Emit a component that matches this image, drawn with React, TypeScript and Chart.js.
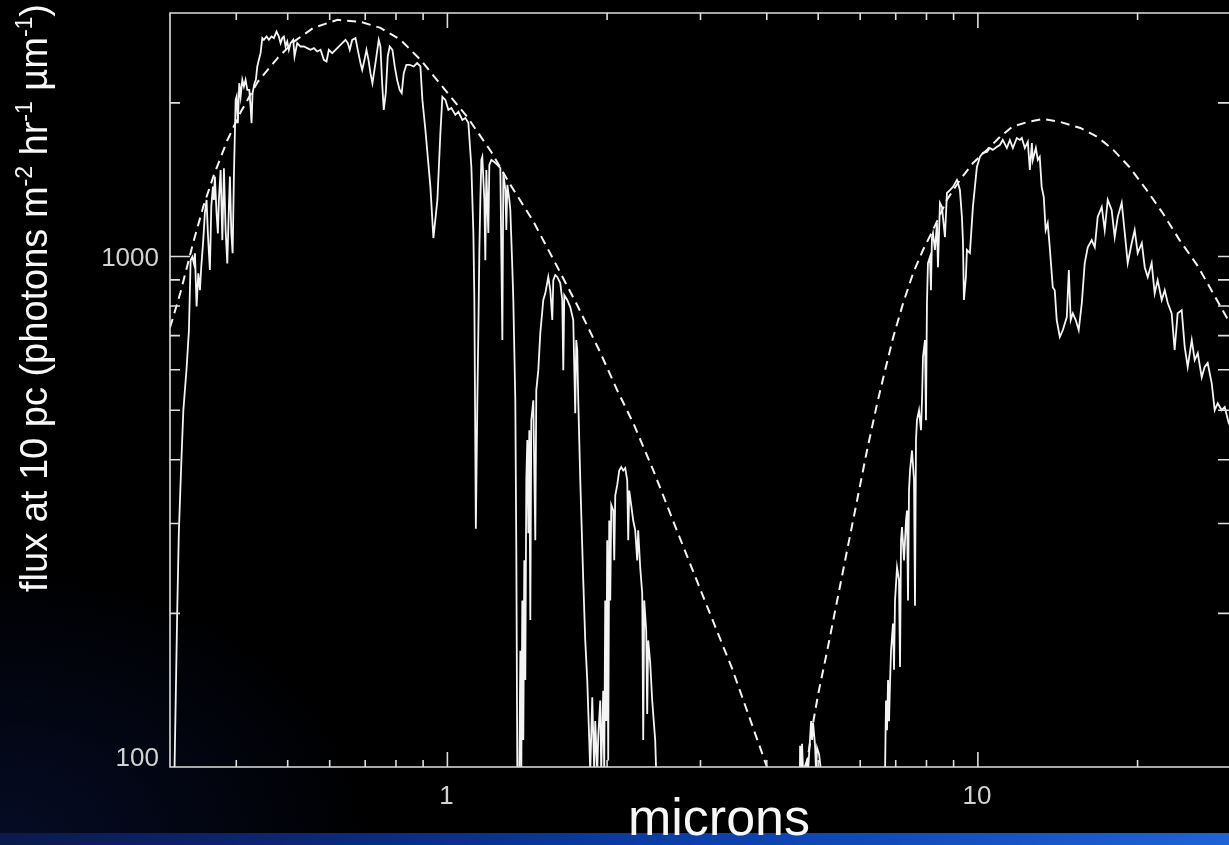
import { useEffect, useRef } from "react";
import { Chart, registerables } from "chart.js";

Chart.register(...registerables);

// ---- data (microns, photons m^-2 hr^-1 um^-1) ----
const specMicrons = [
  0.303, 0.306, 0.3095, 0.3117, 0.3152, 0.3179, 0.3225, 0.3257, 0.3281, 0.3305, 0.3329, 0.3343, 0.3367, 0.3392, 0.3416,
  0.3436, 0.3466, 0.349, 0.3516, 0.3536, 0.3567, 0.3589, 0.3614, 0.363, 0.3645, 0.3672, 0.3693, 0.3709, 0.3737, 0.3765,
  0.3791, 0.3819, 0.3847, 0.3874, 0.3891, 0.3915, 0.3937, 0.396, 0.3989, 0.4006, 0.4028, 0.4052, 0.4076, 0.4106, 0.4135,
  0.4165, 0.4196, 0.4232, 0.4256, 0.4274, 0.4293, 0.433, 0.4355, 0.4382, 0.4412, 0.4445, 0.4478, 0.4509, 0.4562, 0.4608,
  0.4662, 0.4709, 0.4764, 0.4812, 0.4848, 0.4884, 0.4918, 0.4954, 0.4991, 0.5025, 0.5062, 0.5122, 0.5151, 0.5211, 0.5287,
  0.5364, 0.5443, 0.5521, 0.5601, 0.5684, 0.5766, 0.585, 0.5918, 0.5977, 0.6066, 0.6153, 0.6241, 0.6335, 0.6426, 0.649,
  0.6546, 0.6616, 0.6711, 0.6778, 0.6858, 0.6909, 0.6978, 0.7038, 0.71, 0.7161, 0.7223, 0.7286, 0.7349, 0.7423, 0.7479,
  0.7534, 0.7587, 0.7653, 0.7719, 0.7786, 0.7878, 0.7957, 0.804, 0.813, 0.8202, 0.8274, 0.837, 0.8491, 0.8642, 0.8769,
  0.8895, 0.8972, 0.909, 0.9289, 0.9411, 0.9575, 0.9701, 0.9785, 0.9913, 1.0043, 1.0175, 1.0353, 1.0489, 1.0672, 1.0812,
  1.0954, 1.1097, 1.1194, 1.1242, 1.1315, 1.1389, 1.1439, 1.1489, 1.1538, 1.1588, 1.1638, 1.174, 1.1791, 1.1842, 1.1945,
  1.1997, 1.2102, 1.2261, 1.2421, 1.2584, 1.2694, 1.2749, 1.286, 1.2915, 1.2972, 1.3085, 1.3141, 1.3255, 1.3313, 1.3429,
  1.3487, 1.3546, 1.3605, 1.3665, 1.3724, 1.3784, 1.3843, 1.3904, 1.3964, 1.4025, 1.4085, 1.4147, 1.4209, 1.427, 1.4332,
  1.4394, 1.452, 1.4646, 1.4709, 1.4838, 1.4967, 1.5163, 1.5295, 1.5495, 1.5631, 1.5767, 1.5836, 1.5973, 1.6112, 1.6323,
  1.6465, 1.6537, 1.6609, 1.6826, 1.7046, 1.7269, 1.7419, 1.7494, 1.7571, 1.7648, 1.7802, 1.8035, 1.8192, 1.835, 1.8511,
  1.8591, 1.8753, 1.8916, 1.8998, 1.9164, 1.9248, 1.9414, 1.9498, 1.9668, 1.9754, 1.9839, 1.9925, 2.0012, 2.0099, 2.0187,
  2.0277, 2.0365, 2.0543, 2.0632, 2.0721, 2.0902, 2.1084, 2.1267, 2.1452, 2.1639, 2.1827, 2.1922, 2.2018, 2.2208, 2.2402,
  2.2597, 2.2793, 2.2892, 2.3093, 2.3294, 2.3396, 2.3497, 2.37, 2.3804, 2.3908, 2.4116, 2.4326, 2.4432, 2.4644, 2.475,
  2.486, 3.0, 4.5, 4.602, 4.622, 4.642, 4.662, 4.682, 4.764, 4.785, 4.848, 4.869, 4.89, 4.933, 4.954,
  4.976, 5.019, 5.063, 5.085, 6.0, 6.654, 6.683, 6.712, 6.741, 6.771, 6.8, 6.829, 6.859, 6.918, 6.949,
  6.979, 7.04, 7.101, 7.132, 7.163, 7.194, 7.257, 7.32, 7.352, 7.384, 7.416, 7.448, 7.513, 7.579, 7.611,
  7.644, 7.677, 7.745, 7.812, 7.846, 7.88, 7.948, 7.982, 8.017, 8.052, 8.122, 8.157, 8.193, 8.228, 8.3,
  8.372, 8.409, 8.482, 8.556, 8.668, 8.743, 8.858, 8.974, 9.131, 9.171, 9.25, 9.33, 9.371, 9.412, 9.493,
  9.535, 9.659, 9.786, 9.957, 10.09, 10.22, 10.4, 10.53, 10.67, 10.85, 11.0, 11.14, 11.34, 11.49, 11.64,
  11.84, 12.0, 12.1, 12.26, 12.42, 12.53, 12.64, 12.69, 12.86, 12.97, 13.08, 13.19, 13.31, 13.42, 13.54,
  13.66, 13.84, 13.96, 14.08, 14.27, 14.46, 14.71, 14.84, 14.96, 15.1, 15.29, 15.49, 15.7, 15.9, 16.11,
  16.39, 16.61, 16.82, 17.12, 17.34, 17.57, 17.87, 18.11, 18.35, 18.67, 18.92, 19.16, 19.5, 19.75, 20.01,
  20.37, 20.63, 20.9, 21.26, 21.54, 21.82, 22.21, 22.5, 22.8, 23.19, 23.49, 23.8, 24.22, 24.54, 24.86,
  25.3, 25.63, 25.97, 26.42, 26.76, 27.11, 27.59, 27.95, 28.32, 28.81, 29.19, 29.7, 30.1,
];
const specFlux = [
  50, 100, 200, 287, 399, 500, 607, 718, 984, 999, 969, 1015, 798, 927, 859,
  955, 1077, 1216, 1291, 1110, 941, 1253, 1371, 1291, 1434, 1216, 1110, 1291, 1478, 1077,
  1489, 1127, 969, 1253, 1434, 1110, 1015, 1456, 2027, 2058, 1825, 2186, 2058, 2219, 2153,
  2219, 2121, 2121, 1967, 1825, 2090, 2186, 2219, 2357, 2429, 2503, 2679, 2658, 2698, 2658,
  2698, 2679, 2760, 2698, 2619, 2679, 2698, 2579, 2638, 2541, 2619, 2658, 2466, 2619, 2579,
  2579, 2560, 2541, 2560, 2522, 2541, 2429, 2411, 2541, 2503, 2541, 2579, 2619, 2658, 2619,
  2541, 2658, 2679, 2541, 2393, 2321, 2429, 2541, 2429, 2287, 2186, 2321, 2466, 2658, 2579,
  2186, 1938, 2090, 2466, 2579, 2541, 2357, 2219, 2121, 2090, 2287, 2375, 2375, 2357, 2393,
  2357, 2027, 1770, 1369, 1087, 1291, 1746, 2055, 2027, 1938, 1955, 1895, 1921, 1852, 1869,
  1827, 1498, 1112, 822, 293, 523, 718, 1030, 1291, 1546, 1568, 1291, 984, 1478, 1112,
  1512, 1546, 1532, 1512, 1491, 686, 1458, 1350, 1127, 1382, 1291, 1234, 953, 822, 523,
  266, 98, 50, 98, 169, 98, 212, 113, 254, 148, 365, 437, 287, 457, 194,
  478, 523, 278, 547, 599, 708, 822, 847, 912, 859, 751, 899, 920, 912, 887,
  822, 599, 840, 822, 796, 751, 493, 686, 656, 523, 365, 232, 177, 148, 113,
  98, 137, 98, 123, 98, 115, 135, 98, 141, 98, 212, 123, 278, 103, 304,
  212, 326, 318, 254, 340, 357, 381, 387, 381, 385, 365, 278, 348, 326, 304,
  291, 254, 291, 246, 219, 113, 212, 185, 127, 177, 160, 135, 127, 113, 98,
  50, 20, 20, 50, 110, 98, 111, 98, 103, 98, 123, 113, 122, 110, 98,
  109, 106, 98, 50, 20, 50, 98, 135, 118, 148, 123, 146, 169, 191, 155,
  212, 246, 232, 157, 278, 295, 254, 304, 318, 212, 348, 381, 417, 365, 207,
  437, 478, 500, 457, 523, 636, 686, 478, 811, 971, 998, 859, 1092, 1112, 1030,
  1163, 953, 1274, 1251, 1092, 1332, 1350, 1369, 1413, 1394, 1350, 1196, 1077, 822, 912,
  1030, 1016, 1251, 1498, 1568, 1596, 1603, 1632, 1618, 1639, 1654, 1692, 1632, 1692, 1632,
  1707, 1692, 1707, 1632, 1677, 1478, 1669, 1546, 1632, 1546, 1568, 1369, 1308, 1127, 1163,
  1043, 871, 859, 751, 696, 718, 761, 941, 751, 774, 751, 718, 811, 971, 1043,
  1077, 1043, 1196, 1251, 1127, 1291, 1234, 1092, 1196, 1274, 1112, 971, 1063, 1127, 1016,
  1063, 953, 912, 971, 847, 899, 822, 859, 811, 774, 656, 774, 785, 665, 608,
  686, 627, 647, 580, 608, 619, 565, 500, 516, 500, 507, 472, 460,
];

const starMicrons = [
  0.3, 0.303, 0.314, 0.332, 0.347, 0.363, 0.385, 0.408, 0.439, 0.479, 0.513, 0.559, 0.621, 0.686, 0.748, 0.816,
  0.89, 0.983, 1.09, 1.21, 1.31, 1.45, 1.61, 1.76, 1.94, 2.09, 2.24, 2.44, 2.71, 3.05, 3.44, 3.99, 4.05,
];
const starFlux = [
  726, 751, 851, 1067, 1257, 1445, 1692, 1921, 2199, 2451, 2634, 2806, 2909, 2883, 2805, 2658,
  2429, 2140, 1877, 1603, 1390, 1175, 956, 800, 650, 547, 472, 383, 290, 213, 156, 101, 96,
];

const planetMicrons = [
  4.75, 4.79, 4.83, 4.89, 5.0, 5.2, 5.43, 5.67, 5.92, 6.18, 6.46, 6.63, 6.92, 7.23, 7.55, 7.88, 8.23, 8.74, 9.25,
  9.79, 10.4, 11.0, 11.6, 12.4, 13.3, 14.3, 15.6, 16.8, 18.0, 19.3, 20.8, 22.3, 24.0, 25.9, 27.7, 29.5, 30.5,
];
const planetFlux = [
  100, 106, 112, 122, 139, 169, 212, 266, 333, 417, 516, 578, 693, 811, 928, 1030, 1127, 1291, 1413,
  1525, 1618, 1715, 1795, 1835, 1860, 1835, 1786, 1715, 1618, 1498, 1350, 1217, 1077, 962, 851, 757, 728,
];

// ---- axes ----
const xMin = 0.3;
const xMax = 30;
const yMin = 100;
const yMax = 3000;
const xMajorTicks = [1, 10];
const xMinorTicks = [0.4, 0.5, 0.6, 0.7, 0.8, 0.9, 2, 3, 4, 5, 6, 7, 8, 9, 20, 30];
const yMajorTicks = [100, 1000];
const yMinorTicks = [200, 300, 400, 500, 600, 700, 800, 900, 2000, 3000];
const xTickLabels = ["1", "10"];
const yTickLabels = ["100", "1000"];
const xTitle = "microns";
const yTitleRuns = [
  { text: "flux at 10 pc (photons m", sup: false },
  { text: "-2", sup: true },
  { text: " hr", sup: false },
  { text: "-1", sup: true },
  { text: " \u00b5m", sup: false },
  { text: "-1", sup: true },
  { text: ")", sup: false },
];

const FONT = '"Liberation Sans", Arial, Helvetica, sans-serif';
const INK = "#dedede";

function zip(xs: number[], ys: number[]) {
  return xs.map((x, i) => ({ x, y: ys[i] }));
}

const framePlugin = {
  id: "idlFrame",
  afterDatasetsDraw(chart: any) {
    const { ctx, chartArea: a, scales } = chart;
    const xs = scales.x;
    const ys = scales.y;
    ctx.save();
    ctx.strokeStyle = INK;
    ctx.lineWidth = 1.6;
    ctx.beginPath();
    ctx.rect(a.left, a.top, a.right - a.left, a.bottom - a.top);
    const xt = (v: number, len: number) => {
      const p = xs.getPixelForValue(v);
      ctx.moveTo(p, a.bottom);
      ctx.lineTo(p, a.bottom - len);
      ctx.moveTo(p, a.top);
      ctx.lineTo(p, a.top + len);
    };
    const yt = (v: number, len: number) => {
      const p = ys.getPixelForValue(v);
      ctx.moveTo(a.left, p);
      ctx.lineTo(a.left + len, p);
      ctx.moveTo(a.right, p);
      ctx.lineTo(a.right - 13, p);
    };
    xMajorTicks.forEach((v) => xt(v, 15));
    xMinorTicks.forEach((v) => xt(v, 7));
    yMajorTicks.forEach((v) => yt(v, 20));
    yMinorTicks.forEach((v) => yt(v, 10));
    ctx.stroke();
    ctx.restore();
  },
  afterDraw(chart: any) {
    const { ctx, chartArea: a, scales } = chart;
    const xs = scales.x;
    const ys = scales.y;
    ctx.save();
    // tick labels
    ctx.fillStyle = "#d2d2d2";
    ctx.font = `26px ${FONT}`;
    ctx.textAlign = "right";
    ctx.textBaseline = "middle";
    yMajorTicks.forEach((v, i) => {
      const p = Math.min(ys.getPixelForValue(v) + 2, a.bottom - 8);
      ctx.fillText(yTickLabels[i], a.left - 11, p);
    });
    ctx.textAlign = "center";
    xMajorTicks.forEach((v, i) => {
      ctx.fillText(xTickLabels[i], xs.getPixelForValue(v) - 1, a.bottom + 30);
    });
    // x title
    ctx.fillStyle = "#f7f7f7";
    ctx.font = `52px ${FONT}`;
    ctx.textAlign = "center";
    ctx.textBaseline = "alphabetic";
    ctx.fillText(xTitle, 719, 835);
    // y title with superscripts
    ctx.translate(47, 592);
    ctx.rotate(-Math.PI / 2);
    ctx.textAlign = "left";
    let cx = 0;
    yTitleRuns.forEach((r) => {
      ctx.font = r.sup ? `23px ${FONT}` : `38px ${FONT}`;
      ctx.fillText(r.text, cx, r.sup ? -15 : 0);
      cx += ctx.measureText(r.text).width;
    });
    ctx.restore();
  },
};

export default function App() {
  const ref = useRef<HTMLCanvasElement | null>(null);

  useEffect(() => {
    if (!ref.current) return;
    const line = {
      borderColor: "#f4f4f4",
      pointRadius: 0,
      tension: 0,
      fill: false,
      clip: 0,
    };
    const chart = new Chart(ref.current, {
      type: "line",
      data: {
        datasets: [
          { ...line, label: "spectrum", data: zip(specMicrons, specFlux), borderWidth: 1.8 },
          { ...line, label: "star blackbody", data: zip(starMicrons, starFlux), borderWidth: 2, borderDash: [9, 6] },
          { ...line, label: "planet blackbody", data: zip(planetMicrons, planetFlux), borderWidth: 2, borderDash: [9, 6] },
        ],
      } as any,
      options: {
        responsive: false,
        animation: false,
        events: [],
        layout: { padding: { top: 13, right: 9, left: 0, bottom: 0 } },
        plugins: { legend: { display: false }, tooltip: { enabled: false }, title: { display: false } },
        scales: {
          x: {
            type: "logarithmic",
            min: xMin,
            max: xMax,
            grid: { display: false },
            border: { display: false },
            ticks: { display: false },
            afterFit: (s: any) => {
              s.height = 78;
            },
          },
          y: {
            type: "logarithmic",
            min: yMin,
            max: yMax,
            grid: { display: false },
            border: { display: false },
            ticks: { display: false },
            afterFit: (s: any) => {
              s.width = 170;
            },
          },
        },
      } as any,
      plugins: [framePlugin],
    });
    return () => chart.destroy();
  }, []);

  return (
    <div
      style={{
        position: "fixed",
        left: 0,
        top: 0,
        width: 1229,
        height: 845,
        overflow: "hidden",
        background:
          "linear-gradient(to right, #0a1a4c 0%, #0b2a80 30%, #0c42b0 60%, #1f63d6 100%) 0 833px / 100% 12px no-repeat, radial-gradient(ellipse 380px 280px at 0% 100%, rgba(12,28,90,0.42), rgba(0,0,0,0) 100%), #000",
      }}
    >
      <canvas ref={ref} width={1240} height={845} style={{ display: "block" }} />
    </div>
  );
}
